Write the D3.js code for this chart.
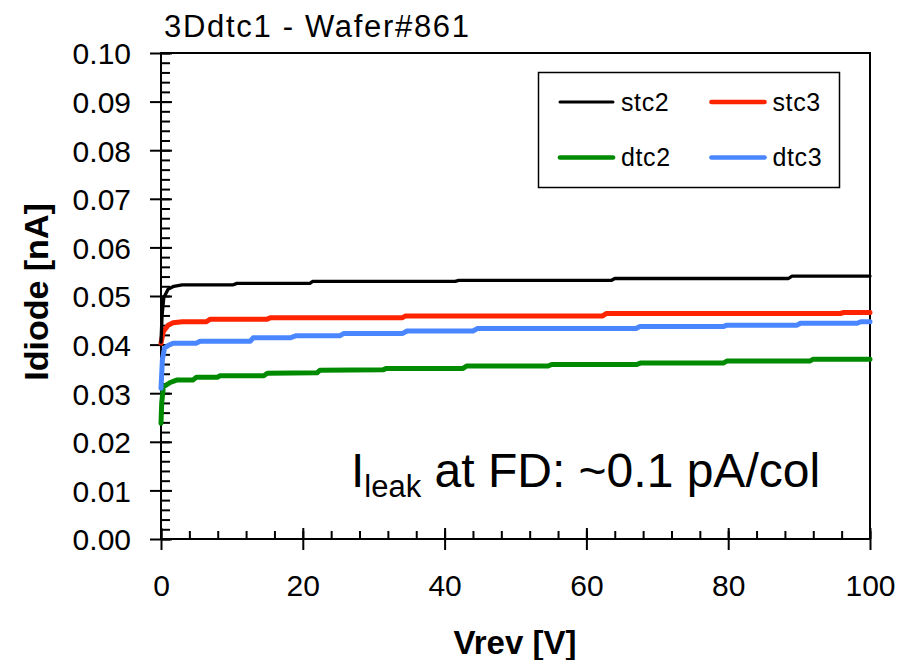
<!DOCTYPE html>
<html>
<head>
<meta charset="utf-8">
<script src="https://cdn.jsdelivr.net/npm/d3@7"></script>
<style>
  body { margin: 0; background: #fff; }
  text { font-family: "Liberation Sans", Arial, sans-serif; fill: #000; }
</style>
</head>
<body>
<div id="chart"></div>
<script>
// data: reverse voltage [V] and diode current [nA]
const stc2V = [0, 0.15, 0.4, 1, 1.8, 3, 10.2, 10.7, 21, 21.4, 41.5, 42, 63.5, 64, 88.5, 89, 100];
const stc2I = [0.0405, 0.046, 0.0497, 0.0514, 0.052, 0.0523, 0.0523, 0.0526, 0.0526, 0.053, 0.053, 0.0532, 0.0532, 0.0536, 0.0536, 0.0541, 0.0541];

const stc3V = [0, 0.33, 1, 1.7, 3, 6.4, 6.9, 14.9, 15.4, 34, 34.5, 62.3, 62.8, 95.8, 96.3, 100];
const stc3I = [0.0403, 0.0427, 0.044, 0.0445, 0.0447, 0.0447, 0.0452, 0.0452, 0.0455, 0.0455, 0.0459, 0.0459, 0.0464, 0.0464, 0.0466, 0.0466];

const dtc2V = [0, 0.1, 0.33, 1.3, 2.2, 4.5, 5, 8, 8.3, 14.5, 15, 22, 22.4, 31.3, 31.8, 42.6, 43.1, 54.6, 55.1, 67.1, 67.6, 79.3, 79.8, 91.5, 92, 100];
const dtc2I = [0.0238, 0.028, 0.0313, 0.0322, 0.0327, 0.0327, 0.0333, 0.0333, 0.0336, 0.0336, 0.0341, 0.0342, 0.0347, 0.0348, 0.0351, 0.0351, 0.0356, 0.0356, 0.0359, 0.0359, 0.0362, 0.0362, 0.0366, 0.0366, 0.037, 0.037];

const dtc3V = [0, 0.2, 0.5, 1, 1.7, 5, 5.5, 12.6, 13, 18.2, 19, 25.2, 25.8, 34.1, 34.7, 44, 44.6, 67, 67.5, 79.3, 79.8, 89.7, 90.2, 98.2, 98.7, 100];
const dtc3I = [0.031, 0.037, 0.0393, 0.0398, 0.0403, 0.0403, 0.0407, 0.0407, 0.0414, 0.0414, 0.0418, 0.0418, 0.0423, 0.0423, 0.0428, 0.0428, 0.0433, 0.0433, 0.0437, 0.0437, 0.044, 0.044, 0.0444, 0.0444, 0.0447, 0.0447];

const seriesNames = ["stc2", "stc3", "dtc2", "dtc3"];
const seriesColors = ["#000000", "#ff2400", "#008a00", "#4a86ff"];
const seriesWidths = [3.3, 5, 5, 5];

const xMajor = [0, 20, 40, 60, 80, 100];
const yMajor = [0, 0.01, 0.02, 0.03, 0.04, 0.05, 0.06, 0.07, 0.08, 0.09, 0.1];

const series = [
  { name: "stc3", v: stc3V, i: stc3I },
  { name: "dtc2", v: dtc2V, i: dtc2I },
  { name: "dtc3", v: dtc3V, i: dtc3I },
  { name: "stc2", v: stc2V, i: stc2I }
];

const svg = d3.select("#chart").append("svg")
  .attr("width", 915)
  .attr("height", 660);

const x = d3.scaleLinear().domain([0, 100]).range([161, 870]);
const y = d3.scaleLinear().domain([0, 0.1]).range([539, 53]);

// frame
svg.append("rect")
  .attr("x", x(0)).attr("y", y(0.1))
  .attr("width", x(100) - x(0))
  .attr("height", y(0) - y(0.1))
  .attr("fill", "none")
  .attr("stroke", "#000")
  .attr("stroke-width", 2);

// minor ticks (inside)
const yMinor = d3.range(0, 0.1001, 0.002);
const xMinor = d3.range(0, 100.01, 4);

svg.append("g")
  .attr("transform", `translate(${x(0)},0)`)
  .call(d3.axisRight(y).tickValues(yMinor).tickSize(9).tickFormat(""))
  .call(g => g.select(".domain").remove());

svg.append("g")
  .attr("transform", `translate(0,${y(0)})`)
  .call(d3.axisTop(x).tickValues(xMinor).tickSize(8).tickFormat(""))
  .call(g => g.select(".domain").remove());

// major ticks, crossing the axis
svg.append("g")
  .attr("transform", `translate(${x(0)},0)`)
  .call(d3.axisRight(y).tickValues(yMajor).tickSize(11).tickFormat(""))
  .call(g => g.select(".domain").remove());

svg.append("g")
  .attr("transform", `translate(${x(0)},0)`)
  .call(d3.axisLeft(y).tickValues(yMajor).tickSize(11).tickPadding(19).tickFormat(d3.format(".2f")))
  .call(g => g.select(".domain").remove())
  .call(g => g.selectAll("text").style("font-size", "30px").attr("dy", "0.36em"));

svg.append("g")
  .attr("transform", `translate(0,${y(0)})`)
  .call(d3.axisTop(x).tickValues(xMajor).tickSize(11).tickFormat(""))
  .call(g => g.select(".domain").remove());

svg.append("g")
  .attr("transform", `translate(0,${y(0)})`)
  .call(d3.axisBottom(x).tickValues(xMajor).tickSize(11).tickPadding(25).tickFormat(d3.format("d")))
  .call(g => g.select(".domain").remove())
  .call(g => g.selectAll("text").style("font-size", "30px").attr("dy", "0.71em"));

svg.selectAll(".tick line").attr("stroke", "#000").attr("stroke-width", 2);
svg.selectAll(".domain").remove();

// curves
const line = d3.line()
  .x(d => x(d[0]))
  .y(d => y(d[1]));

series.forEach(s => {
  const k = seriesNames.indexOf(s.name);
  svg.append("path")
    .datum(s.v.map((v, j) => [v, s.i[j]]))
    .attr("fill", "none")
    .attr("stroke", seriesColors[k])
    .attr("stroke-width", seriesWidths[k])
    .attr("stroke-linejoin", "round")
    .attr("stroke-linecap", "round")
    .attr("d", line);
});

// legend
const legend = svg.append("g");
legend.append("rect")
  .attr("x", 538.5).attr("y", 72.5)
  .attr("width", 301).attr("height", 115)
  .attr("fill", "#fff")
  .attr("stroke", "#000")
  .attr("stroke-width", 1.5);

const legendItems = legend.selectAll(".item")
  .data(seriesNames)
  .enter().append("g")
  .attr("class", "item")
  .attr("transform", (d, i) => `translate(${560 + (i % 2) * 151.5},${i < 2 ? 102 : 157.5})`);

legendItems.append("line")
  .attr("x1", 0).attr("x2", 53)
  .attr("stroke", (d, i) => seriesColors[i])
  .attr("stroke-width", (d, i) => seriesWidths[i] - 0.3)
  .attr("stroke-linecap", "round");

legendItems.append("text")
  .attr("x", 61)
  .attr("y", 8.5)
  .style("font-size", "25px")
  .style("letter-spacing", "0.6px")
  .text(d => d);

// title
svg.append("text")
  .attr("x", 164)
  .attr("y", 36.5)
  .attr("textLength", 305)
  .style("font-size", "31px")
  .text("3Ddtc1 - Wafer#861");

// axis titles
svg.append("text")
  .attr("x", 515)
  .attr("y", 654)
  .attr("text-anchor", "middle")
  .style("font-size", "33px")
  .style("font-weight", "bold")
  .text("Vrev [V]");

svg.append("text")
  .attr("transform", "translate(48,292) rotate(-90)")
  .attr("text-anchor", "middle")
  .style("font-size", "34px")
  .style("font-weight", "bold")
  .text("Idiode [nA]");

// annotation
const note = svg.append("text")
  .attr("x", 351)
  .attr("y", 486.5)
  .style("font-size", "48px");
note.append("tspan").text("I");
note.append("tspan").attr("dy", 10).style("font-size", "31px").text("leak");
note.append("tspan").attr("dy", -10).text(" at FD: ~0.1 pA/col");
</script>
</body>
</html>
